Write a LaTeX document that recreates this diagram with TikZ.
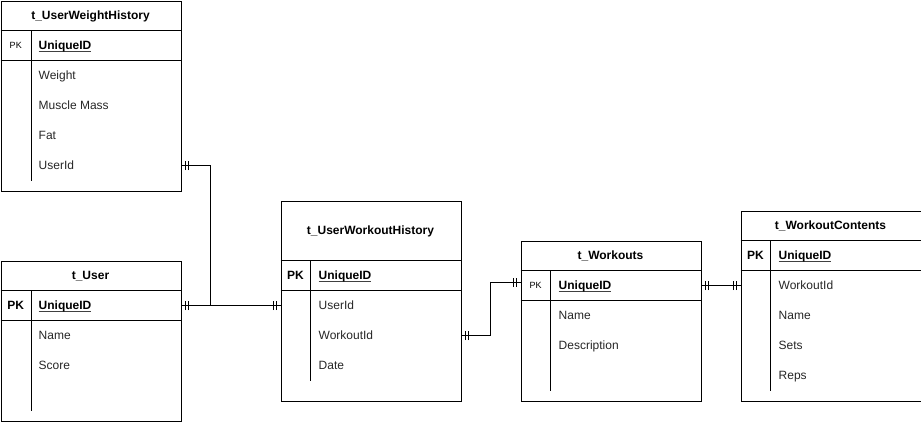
\documentclass[tikz,border=0pt]{standalone}
\usepackage{fontspec}
\setmainfont{Liberation Sans}
\usetikzlibrary{decorations.markings}
\newcommand\keyul[1]{\setbox0\hbox{#1}\rlap{\color{black!75}\rule[-1.6pt]{\wd0}{0.7pt}}\box0}
\begin{document}
\begin{tikzpicture}[x=1pt,y=-1pt,
  tbl/.style={draw, line width=1pt, minimum width=180pt, inner sep=0pt, anchor=north west},
  sep/.style={line width=1pt},
  hdr/.style={font=\fontsize{12}{14}\selectfont\bfseries, inner sep=0pt, text height=8.6pt, text depth=0pt},
  fld/.style={font=\fontsize{12}{14}\selectfont, text=black!85, inner sep=0pt, text height=8.6pt, text depth=0pt, anchor=west},
  key/.style={font=\fontsize{12}{14}\selectfont\bfseries, inner sep=0pt, text height=8.6pt, text depth=0pt, anchor=west},
  pkbig/.style={font=\fontsize{12}{14}\selectfont\bfseries, inner sep=0pt, text height=8.6pt, text depth=0pt},
  pksmall/.style={font=\fontsize{9}{11}\selectfont, inner sep=0pt, text height=6.5pt, text depth=0pt},
  conn/.style={line width=1pt},
  one start/.style={postaction={decorate,decoration={markings,
      mark=at position 4pt with {\draw[line width=1pt] (0,-4.5pt) -- (0,4.5pt);},
      mark=at position 7pt with {\draw[line width=1pt] (0,-4.5pt) -- (0,4.5pt);}}}},
  one end/.style={postaction={decorate,decoration={markings,
      mark=at position -4pt with {\draw[line width=1pt] (0,-4.5pt) -- (0,4.5pt);},
      mark=at position -7pt with {\draw[line width=1pt] (0,-4.5pt) -- (0,4.5pt);}}}}
]
\useasboundingbox (0,0) rectangle (921,421);

% ---------- t_UserWeightHistory ----------
\node[tbl, minimum height=190pt] (wh) at (0.5,0.5) {};
\draw[sep] (0.5,30.5) -- (180.5,30.5);
\draw[sep] (0.5,60.5) -- (180.5,60.5);
\draw[sep] (31,30.5) -- (31,180.5);
\node[hdr] (whT) at (90.5,15.5) {t\_UserWeightHistory};
\node[pksmall] (whPK) at (15.75,45.5) {PK};
\node[key] (whUid) at (38.5,45.5) {\keyul{UniqueID}};
\node[fld] (whW) at (38.5,75.5) {Weight};
\node[fld] (whM) at (38.5,105.5) {Muscle Mass};
\node[fld] (whF) at (38.5,135.5) {Fat};
\node[fld] (whU) at (38.5,165.5) {UserId};

% ---------- t_User ----------
\node[tbl, minimum height=160pt] (u) at (0.5,260.5) {};
\draw[sep] (0.5,290.5) -- (180.5,290.5);
\draw[sep] (0.5,320.5) -- (180.5,320.5);
\draw[sep] (31,290.5) -- (31,410.5);
\node[hdr] (uT) at (90.5,275.5) {t\_User};
\node[pkbig] (uPK) at (15.75,305.5) {PK};
\node[key] (uUid) at (38.5,305.5) {\keyul{UniqueID}};
\node[fld] (uN) at (38.5,335.5) {Name};
\node[fld] (uS) at (38.5,365.5) {Score};

% ---------- t_UserWorkoutHistory ----------
\node[tbl, minimum height=200pt] (uwh) at (280.5,200.5) {};
\draw[sep] (280.5,260.5) -- (460.5,260.5);
\draw[sep] (280.5,290.5) -- (460.5,290.5);
\draw[sep] (310.5,260.5) -- (310.5,380.5);
\node[hdr] (uwhT) at (370.5,230.5) {t\_UserWorkoutHistory};
\node[pkbig] (uwhPK) at (295.5,275.5) {PK};
\node[key] (uwhUid) at (318.5,275.5) {\keyul{UniqueID}};
\node[fld] (uwhU) at (318.5,305.5) {UserId};
\node[fld] (uwhW) at (318.5,335.5) {WorkoutId};
\node[fld] (uwhD) at (318.5,365.5) {Date};

% ---------- t_Workouts ----------
\node[tbl, minimum height=160pt] (w) at (520.5,240.5) {};
\draw[sep] (520.5,270.5) -- (700.5,270.5);
\draw[sep] (520.5,300.5) -- (700.5,300.5);
\draw[sep] (550.5,270.5) -- (550.5,390.5);
\node[hdr] (wT) at (610.5,255.5) {t\_Workouts};
\node[pksmall] (wPK) at (535.5,285.5) {PK};
\node[key] (wUid) at (558.5,285.5) {\keyul{UniqueID}};
\node[fld] (wN) at (558.5,315.5) {Name};
\node[fld] (wD) at (558.5,345.5) {Description};

% ---------- t_WorkoutContents ----------
\node[tbl, minimum height=190pt] (wc) at (740.5,210.5) {};
\draw[sep] (740.5,240.5) -- (920.5,240.5);
\draw[sep] (740.5,270.5) -- (920.5,270.5);
\draw[sep] (770.5,240.5) -- (770.5,390.5);
\node[hdr] (wcT) at (830.5,225.5) {t\_WorkoutContents};
\node[pkbig] (wcPK) at (755.5,255.5) {PK};
\node[key] (wcUid) at (778.5,255.5) {\keyul{UniqueID}};
\node[fld] (wcW) at (778.5,285.5) {WorkoutId};
\node[fld] (wcN) at (778.5,315.5) {Name};
\node[fld] (wcS) at (778.5,345.5) {Sets};
\node[fld] (wcR) at (778.5,375.5) {Reps};

% ---------- connectors ----------
\coordinate (j1) at (210.5,235);
\coordinate (j2) at (490.5,310);
\coordinate (wIn) at (520.5,282);

\draw[conn, one start, one end] (wh.east |- whU) -| (j1) |- (u.east |- uUid);
\draw[conn, one start, one end] (u.east |- uUid) -- (uwh.west |- uwhU);
\draw[conn, one start, one end] (uwh.east |- uwhW) -| (j2) |- (wIn);
\draw[conn, one start, one end] (w.east |- wUid) -- (wc.west |- wcW);
\end{tikzpicture}
\end{document}
